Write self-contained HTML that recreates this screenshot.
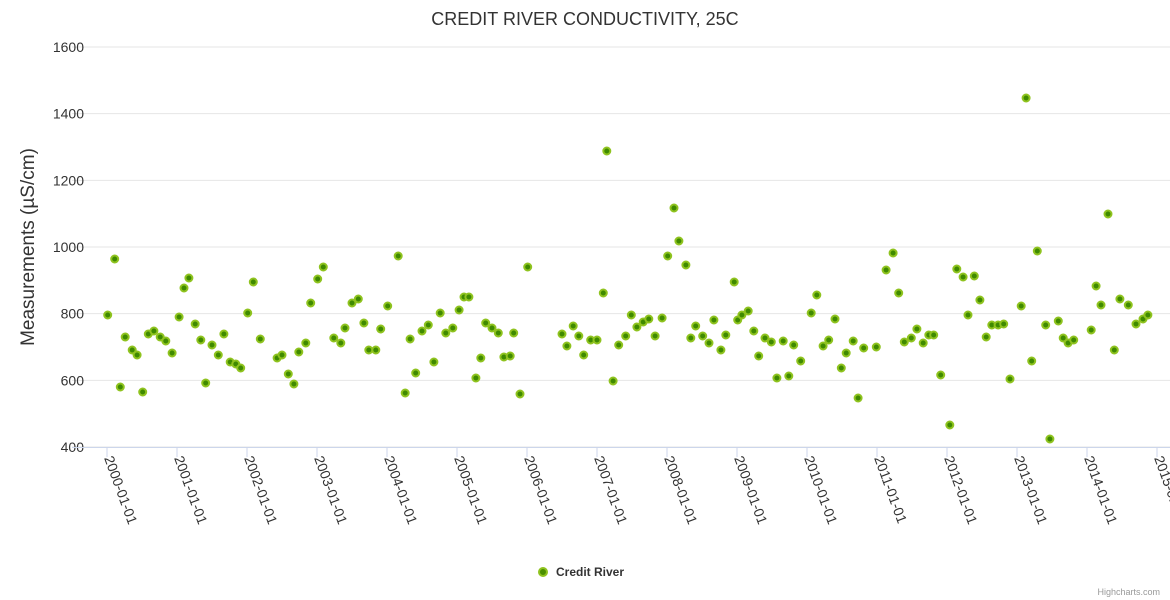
<!DOCTYPE html>
<html><head><meta charset="utf-8">
<style>
body{margin:0;background:#fff;font-family:"Liberation Sans",sans-serif;}
svg{display:block}
</style></head>
<body>
<svg id="chart" width="1170" height="600" xmlns="http://www.w3.org/2000/svg">
<text x="585" y="25" text-anchor="middle" font-size="18" fill="#333">CREDIT RIVER CONDUCTIVITY, 25C</text>
<text transform="translate(34,247) rotate(-90)" text-anchor="middle" font-size="19" fill="#333">Measurements (µS/cm)</text>
<g id="grid"></g><g id="xaxis"></g><g id="points"></g>
<g>
<circle cx="543" cy="572" r="4" fill="#4a8f00" stroke="#8fc31f" stroke-width="2"/>
<text x="556" y="576" font-size="12" font-weight="bold" fill="#333">Credit River</text>
</g>
<text x="1160" y="595" text-anchor="end" font-size="9" fill="#999">Highcharts.com</text>
</svg>
<script>
const xYears=[2000.01,2000.11,2000.19,2000.26,2000.36,2000.43,2000.51,2000.59,2000.67,2000.76,2000.84,2000.93,2001.03,2001.1,2001.17,2001.26,2001.34,2001.41,2001.5,2001.59,2001.67,2001.76,2001.84,2001.91,2002.01,2002.09,2002.19,2002.43,2002.5,2002.59,2002.67,2002.74,2002.84,2002.91,2003.01,2003.09,2003.24,2003.34,2003.4,2003.5,2003.59,2003.67,2003.74,2003.84,2003.91,2004.01,2004.16,2004.26,2004.33,2004.41,2004.5,2004.59,2004.67,2004.76,2004.84,2004.94,2005.03,2005.1,2005.17,2005.27,2005.34,2005.41,2005.5,2005.59,2005.67,2005.76,2005.81,2005.9,2006.01,2006.5,2006.57,2006.66,2006.74,2006.81,2006.91,2007.0,2007.09,2007.14,2007.23,2007.31,2007.41,2007.49,2007.57,2007.66,2007.74,2007.83,2007.93,2008.01,2008.1,2008.17,2008.27,2008.34,2008.41,2008.51,2008.6,2008.67,2008.77,2008.84,2008.96,2009.01,2009.07,2009.16,2009.24,2009.31,2009.4,2009.49,2009.57,2009.66,2009.74,2009.81,2009.91,2010.06,2010.14,2010.23,2010.31,2010.4,2010.49,2010.56,2010.66,2010.73,2010.81,2010.99,2011.13,2011.23,2011.31,2011.39,2011.49,2011.57,2011.66,2011.74,2011.81,2011.91,2012.04,2012.14,2012.23,2012.3,2012.39,2012.47,2012.56,2012.64,2012.73,2012.81,2012.9,2013.06,2013.13,2013.21,2013.29,2013.41,2013.47,2013.59,2013.66,2013.73,2013.81,2014.06,2014.13,2014.2,2014.3,2014.39,2014.47,2014.59,2014.7,2014.8,2014.87];
const values=[796,964,580,730,691,676,565,739,748,730,718,682,790,877,907,769,721,592,706,676,739,655,649,637,802,895,724,667,676,619,589,685,712,832,904,940,727,712,757,832,844,772,691,691,754,823,973,562,724,622,748,766,655,802,742,757,811,850,850,607,667,772,757,742,670,673,742,559,940,739,703,763,733,676,721,721,862,1288,598,706,733,796,760,775,784,733,787,973,1117,1018,946,727,763,733,712,781,691,736,895,781,796,808,748,673,727,715,607,718,613,706,658,802,856,703,721,784,637,682,718,547,697,700,931,982,862,715,727,754,712,736,736,616,466,934,910,796,913,841,730,766,766,769,604,823,1447,658,988,766,424,778,727,712,721,751,883,826,1099,691,844,826,769,784,796,688];
const yTicks=[400,600,800,1000,1200,1400,1600];
const xTicks=[2000,2001,2002,2003,2004,2005,2006,2007,2008,2009,2010,2011,2012,2013,2014,2015];
const NS="http://www.w3.org/2000/svg";
const xs=y=>107+(y-2000)*70;
const ys=v=>447-(v-400)/3;
function mk(t,a,p){const e=document.createElementNS(NS,t);for(const k in a)e.setAttribute(k,a[k]);p.appendChild(e);return e;}
const grid=document.getElementById('grid'),xa=document.getElementById('xaxis'),pts=document.getElementById('points');
yTicks.forEach(v=>{
 const l=mk('line',{x1:72,x2:1170,y1:ys(v),y2:ys(v),stroke:'#e6e6e6'},grid);
 
 
 const t=mk('text',{x:84,y:ys(v)+5,'text-anchor':'end','font-size':14,fill:'#333'},grid);
 
 
 t.textContent=v;
});
mk('line',{x1:72,x2:1170,y1:447.5,y2:447.5,stroke:'#ccd6eb'},xa);
xTicks.forEach(y=>{
 const x=xs(y);
 mk('line',{x1:x,x2:x,y1:447,y2:457,stroke:'#ccd6eb'},xa);
 const t=mk('text',{transform:`translate(${x-3},${458}) rotate(70)`,'font-size':14,fill:'#333'},xa);
 
 
 t.textContent=y+'-01-01';
});
xYears.forEach((y,i)=>{
 const c=mk('circle',{cx:xs(y),cy:ys(values[i]),r:3.5,fill:'#3f8a00',stroke:'#8fc31f','stroke-width':2},pts);
 
 
});
</script>
</body></html>
